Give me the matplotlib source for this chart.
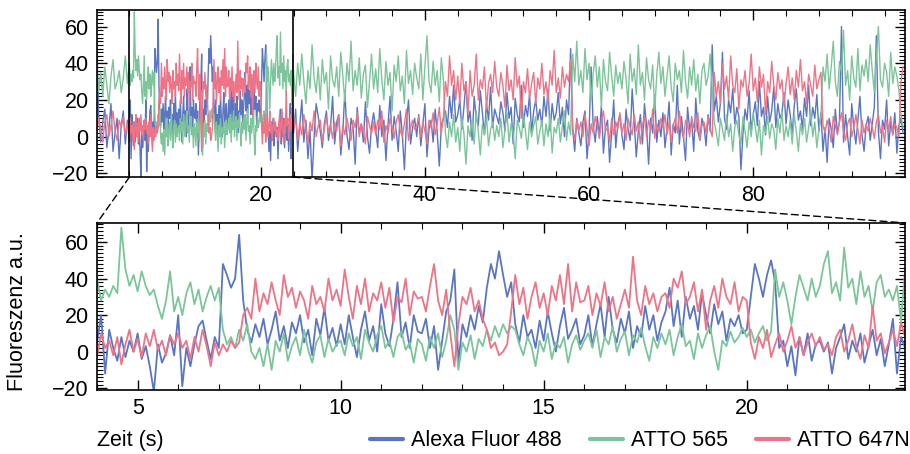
import numpy as np
import matplotlib
matplotlib.use("Agg")
import matplotlib.pyplot as plt
from matplotlib.patches import ConnectionPatch
from matplotlib.ticker import MultipleLocator

plt.rcParams['font.family'] = ['Liberation Sans', 'DejaVu Sans']
plt.rcParams['font.size'] = 15.5

# ---- data: fluorescence traces (a.u.) ----
# segment a: 0 .. 3.75 s, step 0.25 s
# segment b: 4.0 .. 23.9 s, step 0.1 s (zoomed window)
# segment c: 24.0 .. 98.25 s, step 0.25 s
seg_start = [0.0, 4.0, 24.0]
seg_step = [0.25, 0.1, 0.25]

labels = ['Alexa Fluor 488', 'ATTO 565', 'ATTO 647N']
colors = ['#5a76c2', '#7cc59a', '#ef7386']

alexa_a = [55, 12, -3, 8, 15, -6, 4, 18, -8, 2, 10, -12, 6, 14, -4, 9]
atto565_a = [40, 25, 35, 22, 38, 28, 18, 33, 42, 26, 30, 36, 24, 32, 44, 29]
atto647_a = [2, 10, 4, -3, 8, 12, 0, 6, 14, 3, -2, 9, 5, 11, 1, 7]

alexa_b = [
    5, 20, -12, 12, 2, -5, 8, -3, 6, 0, 10, -4, 3, -8, -22, 4, -6, -1, 9, -2,
    20, -19, 2, -8, 4, 14, 17, 6, -4, 8, 2, 48, 42, 35, 40, 64, 28, 12, 5, 15,
    8, 18, 4, 12, 22, 6, 14, 2, 16, 10, 20, 5, 12, -2, 18, 9, 24, 6, 13, 3,
    15, 4, 20, 8, -3, 12, 22, 6, 14, 0, 26, 10, 3, 18, 38, 8, 16, 2, 20, 11,
    10, 18, 2, 14, -10, 6, 22, 28, 45, -6, 15, 8, 20, 12, 25, 16, 35, 48, 40, 55,
    42, 30, 38, 15, 5, 20, 8, 12, 2, 17, 6, 22, 10, 0, 14, 24, 7, 12, 18, 4,
    9, 20, 3, 15, 26, 8, 30, 12, 5, 18, 10, 22, 2, 14, 8, 25, 12, 20, 6, 16,
    22, 35, 14, 28, 8, 30, 18, 25, 12, 32, 20, 10, 26, 15, 22, 6, 18, 14, 20, 10,
    12, 30, 48, 40, 30, 42, 50, 38, 2, 6, -8, 3, -13, 8, -2, 10, -5, 4, 6, 0,
    5, -12, 2, 8, 15, -4, 6, 0, 10, -6, 3, 12, -2, 7, -8, 4, 18, -12, 8, 2,
]
atto565_b = [
    40, 28, 34, 30, 36, 32, 68, 45, 36, 42, 33, 44, 36, 31, 34, 25, 18, 28, 44, 22,
    30, 20, 32, 38, 26, 34, 22, 30, 36, 28, 35, 12, 4, 8, 2, 12, 6, 15, 0, -4,
    2, -8, 4, -10, 6, 0, 10, -5, 3, 8, -2, 12, 1, -6, 5, 9, -3, 7, 0, 4,
    6, -2, 10, 3, 8, -4, 12, 5, 0, 9, 14, 2, 6, -3, 8, 11, 1, 5, -6, 7,
    4, -5, 8, 2, 10, -3, 6, 20, 12, -10, 5, 0, 9, -4, 7, 3, 12, 6, 14, 8,
    15, 10, 14, 12, 4, -2, 8, 3, -8, 6, 0, 10, -4, 5, 2, 8, -6, 4, 9, 1,
    6, 10, 2, 12, -3, 8, 4, 14, 0, 7, 11, -2, 9, 5, 13, 3, -5, 8, 2, 10,
    4, 12, -2, 8, 15, 3, 6, -4, 10, 2, 9, 14, 0, -10, 6, 3, 11, 5, 8, 13,
    8, 12, 5, 10, 14, 6, 11, 45, 30, 38, 28, 15, 30, 42, 35, 28, 40, 30, 36, 48,
    55, 32, 38, 28, 57, 35, 40, 26, 44, 30, 36, 22, 38, 42, 30, 34, 28, 36, 17, 45,
]
atto647_b = [
    -3, 10, 2, 6, -2, 8, -7, 4, 12, 0, 7, -3, 10, 3, 12, 1, 6, -2, 9, 4,
    10, 2, 6, -4, 8, 0, 12, 3, -8, 5, -2, 4, 0, 6, 2, 5, 20, 24, 18, 40,
    22, 32, 26, 38, 28, 20, 42, 30, 35, 24, 33, 28, 18, 36, 26, 30, 22, 40, 28, 34,
    25, 45, 30, 18, 36, 26, 40, 22, 32, 28, 38, 24, 35, 16, 30, 27, 40, 20, 33, 29,
    30, 22, 36, 48, 28, 20, 34, 10, -8, 15, 30, 26, 35, 22, 28, 18, 12, 2, 5, -2,
    0, 4, 22, 42, 26, 35, 18, 30, 38, 24, 32, 20, 36, 28, 42, 26, 48, 22, 38, 27,
    28, 36, 20, 32, 25, 38, 22, 30, 18, 26, 34, 24, 52, 28, 20, 36, 26, 32, 22, 30,
    32, 24, 40, 35, 44, 26, 30, 38, 22, 34, 12, 28, 36, 24, 40, 30, 26, 38, 22, 30,
    28, 5, -4, 8, 2, 12, -3, 4, 10, 0, 6, 14, 2, 8, -2, 5, 10, 3, 8, 1,
    4, -2, 8, 12, 0, 6, 15, 3, -4, 9, 2, 25, 6, 10, -1, 5, 12, 3, 16, 8,
]

alexa_c = [
    2, 15, -8, 6, 20, -3, 9, -12, 4, -24, 0, 18, 11, 3, -6, 7, 14, -2, 5, 22,
    -4, 8, 12, -10, 3, 25, 1, -7, 10, 5, -15, 16, 2, 7, -3, 19, 0, -9, 6, 13,
    4, -6, 17, 0, 9, -13, 6, 22, -2, 11, 3, -8, 14, 1, -18, 8, 20, -4, 5, 10,
    0, 12, -5, 7, 18, -11, 4, 9, -3, 15, 2, -16, 6, 10, 14, 5, 22, 10, 28, 8,
    12, 20, 4, 16, 30, 8, 14, -2, 22, 10, 6, 25, 13, 1, 18, 9, 27, 5, 15, 11,
    7, 19, 13, 3, 24, 10, 16, -4, 21, 12, 8, 28, 5, 17, 11, 23, 2, 14, 20, 9,
    15, 6, 22, 11, 26, 3, 18, 9, 13, 24, 7, 16, 0, 20, 12, 48, 4, -8, 10, 2,
    -5, 8, 14, -12, 3, 38, 6, -3, 11, 0, 17, -9, 5, 9, -14, 2, 20, -6, 7, 12,
    1, -7, 15, 4, -2, 26, 8, -11, 3, 12, -4, 18, 6, -15, 10, 2, 23, -3, 9, 0,
    13, -6, 5, 19, -10, 7, 2, 28, -4, 11, 0, -13, 16, 4, 8, -8, 21, 3, -2, 10,
    6, -5, 12, 3, 50, 14, 22, 8, 18, 46, 10, 4, 20, 13, 26, 7, 16, 11, -18, 2,
    15, 9, 25, 3, 12, 19, 6, 30, 11, 16, 1, 22, 8, 14, 27, 5, 18, 10, 13, 24,
    7, 20, 12, 2, 17, 26, 9, 14, 4, 21, 11, 28, 6, 16, 10, 23, 3, 13, -8, 5,
    -14, 10, 4, -6, 15, 2, 8, 60, -3, 12, 0, -10, 18, 5, -4, 9, 22, 1, -8, 6,
    11, -2, 7, 16, 55, 3, -12, 9, 4, 20, -5, 8, 1, 13, -9, 6, 10, 2,
]
atto565_c = [
    34, 22, 40, 28, 45, 30, 18, 36, 26, 50, 32, 24, 38, 20, 42, 29, 35, 15, 44, 31,
    27, 38, 22, 46, 33, 19, 40, 30, 52, 25, 36, 28, 43, 21, 34, 39, 16, 30, 45, 26,
    37, 24, 48, 31, 20, 41, 28, 35, 14, 39, 30, 44, 25, 33, 18, 47, 29, 36, 23, 40,
    32, 26, 45, 20, 38, 55, 30, 24, 41, 28, 36, 19, 43, 31, 2, -6, 8, 0, 12, -3,
    5, -8, 10, 2, -15, 6, 0, 9, -4, 14, 3, -10, 7, 1, 11, -5, 4, 8, -2, 6,
    0, 10, -6, 4, 13, -3, 7, 2, -12, 9, 5, -1, 12, 3, -7, 8, 0, 6, 11, -4,
    3, 9, -5, 7, 0, 12, -9, 5, 2, 10, -3, 6, 14, -2, 8, 1, 45, 30, 52, 28,
    36, 24, 48, 31, 40, 20, 34, 44, 27, 38, 16, 42, 30, 25, 46, 33, 22, 39, 29, 35,
    26, 41, 32, 18, 45, 30, 37, 23, 50, 28, 35, 20, 43, 31, 26, 39, 14, 34, 46, 29,
    38, 22, 33, 44, 27, 19, 40, 31, 36, 24, 47, 30, 21, 38, 28, 42, 25, 34, 18, 36,
    40, 28, 33, 45, 26, 8, 2, -5, 10, 4, -2, 12, 0, 7, -8, 5, 9, 1, -4, 11,
    3, -6, 8, 0, 13, 5, -3, 9, -10, 6, 2, 11, -1, 7, 4, -7, 10, 2, 14, -2,
    6, 0, 9, -4, 12, 3, -8, 7, 1, 10, -3, 5, 13, 0, 8, -6, 4, 11, 38, 30,
    45, 26, 38, 52, 30, 22, 41, 35, 58, 28, 36, 20, 44, 32, 27, 48, 25, 39, 33, 42,
    30, 50, 36, 24, 43, 60, 31, 27, 40, 35, 22, 46, 29, 38, 33, 25, 12, 5,
]
atto647_c = [
    4, 10, -2, 7, 1, 12, 5, -4, 8, 3, 14, 0, 6, 9, -3, 5, 11, 2, 7, -1,
    8, 3, 12, -5, 6, 1, 10, 4, -2, 9, 5, 13, 0, 7, 3, -4, 11, 6, 2, 8,
    1, 9, 4, 14, -3, 6, 2, 10, 5, -1, 8, 12, 3, 0, 7, 15, -2, 5, 9, 4,
    6, 11, 0, 8, 3, -4, 9, 5, 13, 1, 7, 16, 2, 10, 30, 22, 44, 28, 36, 20,
    33, 18, 40, 25, 30, 12, 36, 22, 28, 45, 20, 31, 26, 38, 15, 29, 34, 24, 41, 27,
    22, 35, 28, 16, 39, 25, 31, 20, 43, 27, 33, 10, 30, 24, 37, 21, 29, 35, 18, 32,
    26, 40, 23, 30, 19, 36, 28, 47, 24, 32, 21, 38, 27, 34, 30, 42, 5, -2, 9, 3,
    8, 0, 12, 4, -5, 7, 2, 11, 6, -1, 9, 14, 3, 5, -3, 10, 1, 8, 4, 13,
    2, 7, -2, 10, 5, 1, 12, 3, 8, -4, 6, 11, 0, 9, 4, 15, -1, 7, 3, 10,
    5, 12, 1, 8, -3, 6, 10, 2, 14, 4, -1, 9, 7, 0, 11, 5, 3, 13, -2, 6,
    8, 2, 11, 4, 0, 35, 22, 30, 18, 40, 26, 33, 20, 44, 28, 24, 37, 15, 31, 27,
    36, 22, 29, 45, 25, 32, 19, 38, 27, 34, 12, 30, 24, 41, 28, 20, 35, 26, 31, 17,
    29, 38, 23, 32, 20, 36, 27, 42, 25, 30, 18, 34, 28, 22, 39, 26, 31, 35, 6, 2,
    9, 4, -3, 11, 6, 1, 8, 13, 3, -2, 7, 10, 0, 5, 12, 4, -4, 9, 2, 7,
    3, 10, 5, -1, 8, 12, 2, 6, -3, 9, 4, 11, 1, 7, 5, 0, 30, 38,
]

series = [
    [alexa_a, alexa_b, alexa_c],
    [atto565_a, atto565_b, atto565_c],
    [atto647_a, atto647_b, atto647_c],
]

# zoom window shown in the lower panel
zoom_lo, zoom_hi = 4.0, 23.9


def build_trace(parts):
    t_all, y_all = [], []
    for start, step, vals in zip(seg_start, seg_step, parts):
        t_all.append(start + step * np.arange(len(vals)))
        y_all.append(np.asarray(vals, dtype=float))
    return np.concatenate(t_all), np.concatenate(y_all)


fig = plt.figure(figsize=(9.1, 4.54), dpi=100)
ax1 = fig.add_axes([0.1066, 0.610, 0.888, 0.368])
ax2 = fig.add_axes([0.1066, 0.141, 0.888, 0.368])

for parts, lab, col in zip(series, labels, colors):
    t, y = build_trace(parts)
    ax1.plot(t, y, color=col, lw=1.0)
    ax2.plot(t, y, color=col, lw=1.3, label=lab)

ax1.set_xlim(0.05, 98.5)
ax1.set_ylim(-22, 69)
ax2.set_xlim(zoom_lo, zoom_hi)
ax2.set_ylim(-21, 70.5)

ax1.xaxis.set_major_locator(MultipleLocator(20))
ax1.xaxis.set_minor_locator(MultipleLocator(4))
ax2.xaxis.set_major_locator(MultipleLocator(5))
ax2.xaxis.set_minor_locator(MultipleLocator(1))
for ax in (ax1, ax2):
    ax.yaxis.set_major_locator(MultipleLocator(20))
    ax.yaxis.set_minor_locator(MultipleLocator(2))
    ax.tick_params(which='both', direction='in', top=True, right=True, labelsize=15.5, pad=6)
    ax.tick_params(which='major', length=7, width=1.0)
    ax.tick_params(which='minor', length=4, width=0.8)
    for s in ax.spines.values():
        s.set_linewidth(1.2)

# zoom window marker in the upper panel
ax1.axvline(zoom_lo, color='black', lw=1.2)
ax1.axvline(zoom_hi, color='black', lw=1.2)

# dashed connectors to the lower panel
for xa, xb in ((zoom_lo, 0.0), (zoom_hi, 1.0)):
    con = ConnectionPatch(xyA=(xa, -22), coordsA=ax1.transData,
                          xyB=(xb, 1.0), coordsB=ax2.transAxes,
                          color='black', lw=1.0, linestyle=(0, (5, 3)))
    fig.add_artist(con)

fig.text(0.019, 0.313, 'Fluoreszenz a.u.', rotation=90, va='center', ha='center', fontsize=15.5)
fig.text(0.1066, 0.029, 'Zeit (s)', va='center', ha='left', fontsize=15.5)

fig.legend(*ax2.get_legend_handles_labels(), loc='center right', bbox_to_anchor=(1.0, 0.029),
           ncol=3, frameon=False, fontsize=15.5, handlelength=1.53, handletextpad=0.4,
           columnspacing=1.28, borderpad=0, borderaxespad=0)
for h in fig.legends[0].get_lines():
    h.set_linewidth(3)
    h.set_solid_capstyle('round')

fig.savefig('out.png', dpi=100)
